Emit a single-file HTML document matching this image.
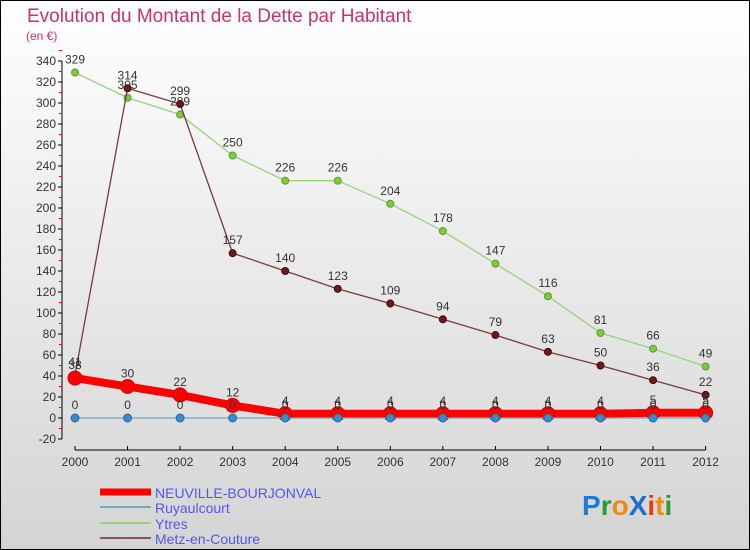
<!DOCTYPE html>
<html><head><meta charset="utf-8"><style>
body{margin:0;}
#c{width:750px;height:550px;position:relative;overflow:hidden;background:linear-gradient(#ffffff,#d4d4d4);font-family:"Liberation Sans",sans-serif;}
svg text{font-family:"Liberation Sans",sans-serif;}
</style></head><body>
<div id="c">
<svg id="s" width="750" height="550">
<rect x="0.5" y="0.5" width="749" height="549" fill="none" stroke="#000"/>
<text x="27" y="22" font-size="19" fill="#c8346a">Evolution du Montant de la Dette par Habitant</text>
<text x="26" y="40" font-size="12" fill="#c8346a">(en €)</text>
<g id="axes"></g><g id="series"></g>
<g>
<line x1="100" y1="492" x2="151" y2="492" stroke="#ff0000" stroke-width="7"/>
<text x="155" y="498" font-size="14" fill="#5555ee">NEUVILLE-BOURJONVAL</text>
<line x1="100" y1="507" x2="151" y2="507" stroke="#6fa8c8" stroke-width="2"/>
<text x="155" y="513" font-size="14" fill="#5555ee">Ruyaulcourt</text>
<line x1="100" y1="523" x2="151" y2="523" stroke="#96d47a" stroke-width="2"/>
<text x="155" y="529" font-size="14" fill="#5555ee">Ytres</text>
<line x1="100" y1="538" x2="151" y2="538" stroke="#8a5555" stroke-width="2"/>
<text x="155" y="544" font-size="14" fill="#5555ee">Metz-en-Couture</text>
</g>
<g font-size="28" font-weight="bold">
<text x="582" y="515"><tspan fill="#1a7fd0">P</tspan><tspan fill="#2a9a3a">r</tspan><tspan fill="#f08a10">o</tspan><tspan fill="#1a6fd0">X</tspan><tspan fill="#e04010">i</tspan><tspan fill="#f08a10">t</tspan><tspan fill="#2a9a3a">i</tspan></text>
</g>
</svg>
</div>
<script>
const years=["2000","2001","2002","2003","2004","2005","2006","2007","2008","2009","2010","2011","2012"];
const yTicks=[-20,0,20,40,60,80,100,120,140,160,180,200,220,240,260,280,300,320,340];
const neuville=[38,30,22,12,4,4,4,4,4,4,4,5,5];
const ruyaulcourt=[0,0,0,0,0,0,0,0,0,0,0,0,0];
const ytres=[329,305,289,250,226,226,204,178,147,116,81,66,49];
const metz=[41,314,299,157,140,123,109,94,79,63,50,36,22];
const NS="http://www.w3.org/2000/svg";
function X(i){return 75+i*52.55;}
function Y(v){return 418-v*1.05;}
function mk(tag,attrs,parent,txt){const e=document.createElementNS(NS,tag);for(const k in attrs)e.setAttribute(k,attrs[k]);if(txt!==undefined)e.textContent=txt;parent.appendChild(e);return e;}
const ax=document.getElementById('axes');
let e=mk('line',{x1:62,y1:Y(-20),x2:62,y2:Y(340),stroke:'#000'},ax);


e=mk('line',{x1:X(0),y1:450,x2:X(12),y2:450,stroke:'#000'},ax);


yTicks.forEach(v=>{
  mk('line',{x1:58,y1:Y(v),x2:62,y2:Y(v),stroke:'#000'},ax);
  mk('line',{x1:59,y1:Y(v+10),x2:62,y2:Y(v+10),stroke:'#f00'},ax);
  const t=mk('text',{x:56,y:Y(v)+4,'font-size':12,fill:'#333','text-anchor':'end'},ax,String(v));
  
  
});
years.forEach((y,i)=>{
  mk('line',{x1:X(i),y1:446,x2:X(i),y2:450,stroke:'#000'},ax);
  const t=mk('text',{x:X(i),y:466,'font-size':12,fill:'#333','text-anchor':'middle'},ax,y);
  
  
});
const sg=document.getElementById('series');
function series(data,name,color,w,r,dot,dotStroke){
  const g=mk('g',{},sg);
  
  
  const p=mk('polyline',{points:data.map((v,i)=>X(i)+','+Y(v)).join(' '),fill:'none',stroke:color,'stroke-width':w,'stroke-linejoin':'round'},g);
  
  
  data.forEach((v,i)=>{
    const c=mk('circle',{cx:X(i),cy:Y(v),r:r,fill:dot,stroke:dotStroke,'stroke-width':1},g);
    
    
    const t=mk('text',{x:X(i),y:Y(v)-9,'font-size':12,fill:'#333','text-anchor':'middle'},g,String(v));
    
    
  });
}
series(ytres,'ytres','#96d47a',1.3,3.5,'#7ccc3c','#5a9a2a');
series(metz,'metz','#7a3a3a',1.3,3.5,'#6a1a1a','#4a0a0a');
series(neuville,'neuville','#ff0000',8,7,'#ff0000','#cc0000');
series(ruyaulcourt,'ruyaulcourt','#6fa8c8',1.3,4,'#3a8acc','#2a6aa0');
</script>
</body></html>
